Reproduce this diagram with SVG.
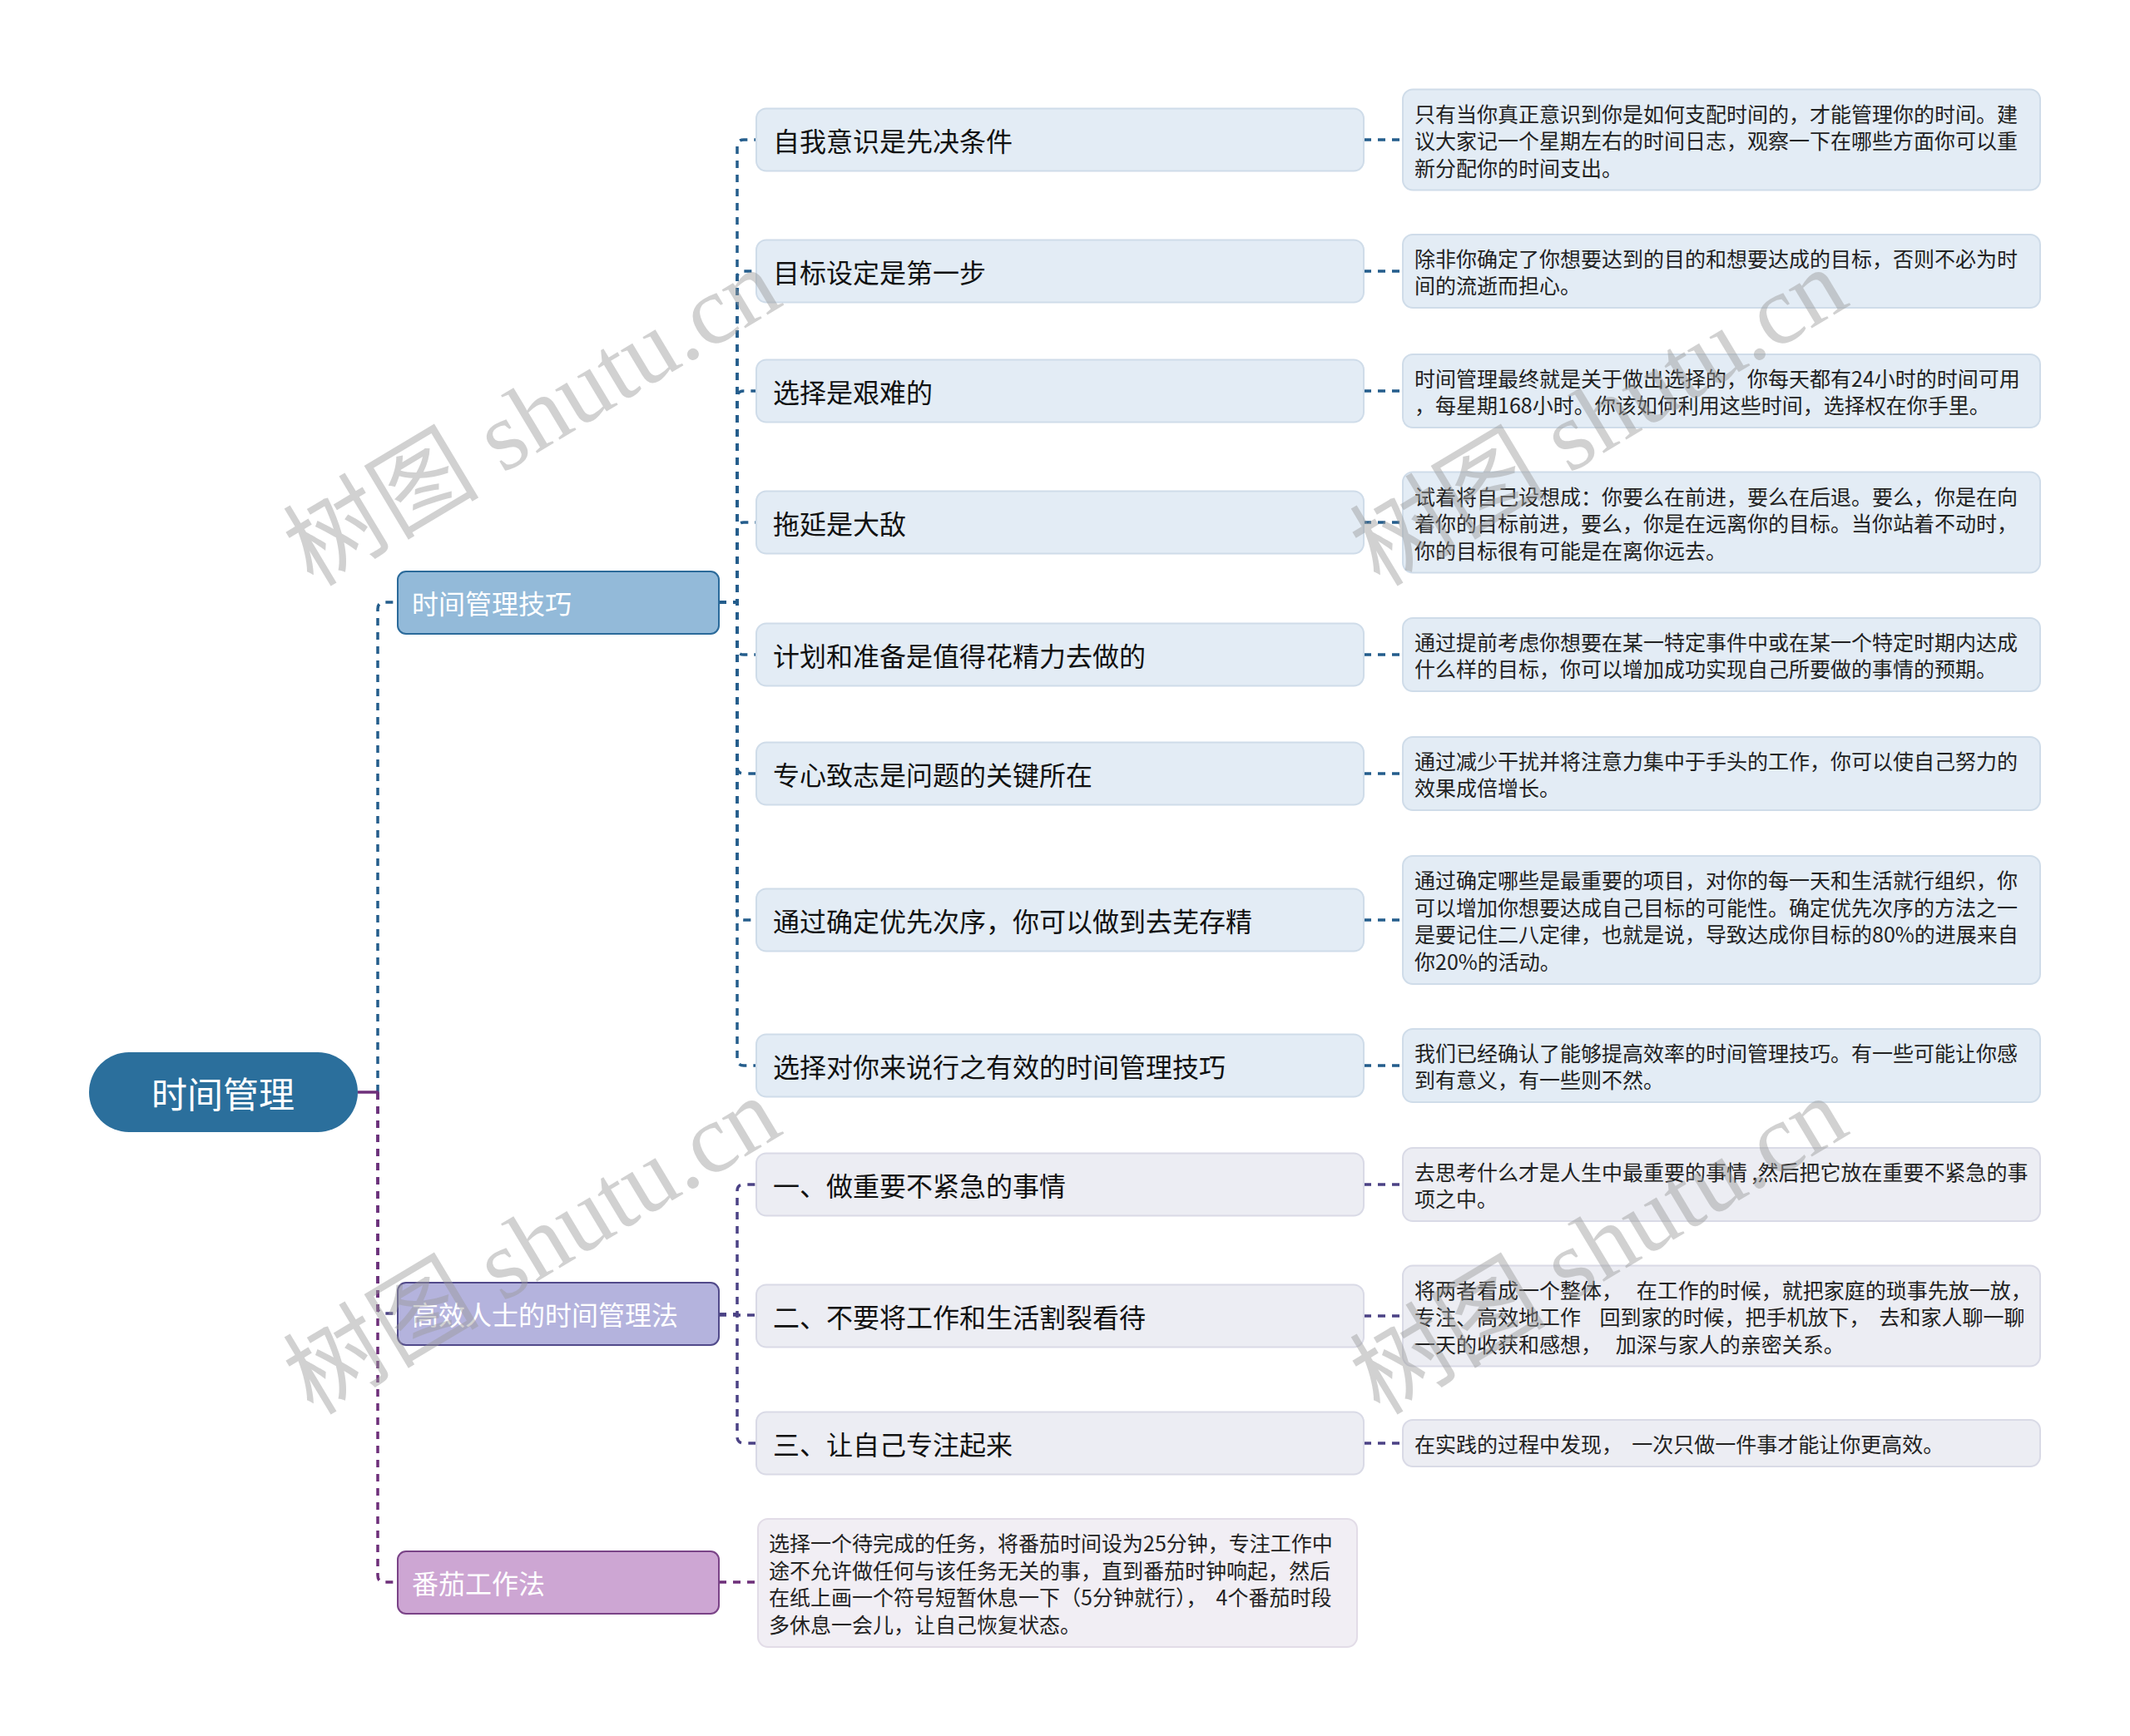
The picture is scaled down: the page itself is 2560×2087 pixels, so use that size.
<svg xmlns="http://www.w3.org/2000/svg" width="2560" height="2087" viewBox="0 0 2560 2087">
<style>
text{font-family:'Noto Sans CJK SC','Noto Sans',sans-serif;dominant-baseline:central}
.root{fill:#2b6f9c}
.rt{fill:#fff;font-size:43px;text-anchor:middle}
.l1t{fill:#fff;font-size:32px}
.n1{fill:#93bad9;stroke:#2b6a9a;stroke-width:2}
.n2{fill:#b4b3dd;stroke:#514a8a;stroke-width:2}
.n3{fill:#cda6d3;stroke:#7a4387;stroke-width:2}
.b{fill:#e3ecf5;stroke:#cfdce9;stroke-width:2}
.p{fill:#ecedf3;stroke:#d9dae6;stroke-width:2}
.q{fill:#f1eef4;stroke:#e2dce7;stroke-width:2}
.l2t{fill:#111;font-size:32px}
.nt{fill:#222;font-size:25px}
.c{fill:none;stroke-width:3.5;stroke-dasharray:9 8}
.cb{stroke:#245d8c}
.cp{stroke:#4b4285}
.cm{stroke:#6e2f7a}
.wm{font-family:'Liberation Serif','Noto Sans CJK SC',serif;font-size:118px;fill:#9a9a9a;opacity:0.45;text-anchor:middle;dominant-baseline:auto}
</style>
<rect width="2560" height="2087" fill="#fff"/>
<g id="connectors">
<path class="c cb" d="M454,1313 V732 Q454,724 462,724 H477"/>
<path class="c cp" d="M454,1313 V1571 Q454,1579 462,1579 H477"/>
<path class="c cm" d="M454,1313 V1894 Q454,1902 462,1902 H477"/>
<path d="M430,1313 H455" stroke="#6e2f7a" stroke-width="3.5" fill="none"/>
<path class="c cb" d="M864,724 H886 V176 Q886,168 894,168 H909"/>
<path class="c cb" d="M864,724 H886 V334 Q886,326 894,326 H909"/>
<path class="c cb" d="M864,724 H886 V478 Q886,470 894,470 H909"/>
<path class="c cb" d="M864,724 H886 V636 Q886,628 894,628 H909"/>
<path class="c cb" d="M864,724 H886 V779 Q886,787 894,787 H909"/>
<path class="c cb" d="M864,724 H886 V922 Q886,930 894,930 H909"/>
<path class="c cb" d="M864,724 H886 V1098 Q886,1106 894,1106 H909"/>
<path class="c cb" d="M864,724 H886 V1273 Q886,1281 894,1281 H909"/>
<path class="c cp" d="M864,1580 H886 V1432 Q886,1424 894,1424 H909"/>
<path class="c cp" d="M864,1581 H909"/>
<path class="c cp" d="M864,1580 H886 V1727 Q886,1735 894,1735 H909"/>
<path class="c cm" d="M864,1902 H911"/>
<path class="c cb" d="M1639,168 H1686"/>
<path class="c cb" d="M1639,326 H1686"/>
<path class="c cb" d="M1639,470 H1686"/>
<path class="c cb" d="M1639,628 H1686"/>
<path class="c cb" d="M1639,787 H1686"/>
<path class="c cb" d="M1639,930 H1686"/>
<path class="c cb" d="M1639,1106 H1686"/>
<path class="c cb" d="M1639,1281 H1686"/>
<path class="c cp" d="M1639,1424 H1686"/>
<path class="c cp" d="M1639,1582 H1686"/>
<path class="c cp" d="M1639,1735 H1686"/>
</g>
<g id="root"><rect class="root" x="107" y="1265" width="323" height="96" rx="48"/><text class="rt" x="268" y="1313">时间管理</text></g>
<g id="n-jiqiao"><rect class="n1" x="478" y="687" width="386" height="75" rx="10"/><text class="l1t" x="495" y="724">时间管理技巧</text></g>
<g id="n-gaoxiao"><rect class="n2" x="478" y="1542" width="386" height="75" rx="10"/><text class="l1t" x="495" y="1579">高效人士的时间管理法</text></g>
<g id="n-fanqie"><rect class="n3" x="478" y="1865" width="386" height="75" rx="10"/><text class="l1t" x="495" y="1902">番茄工作法</text></g>

<g id="c1"><rect class="b" x="909" y="130.5" width="730" height="75" rx="12"/><text class="l2t" x="929" y="168">自我意识是先决条件</text></g>
<g id="c2"><rect class="b" x="909" y="288.5" width="730" height="75" rx="12"/><text class="l2t" x="929" y="326">目标设定是第一步</text></g>
<g id="c3"><rect class="b" x="909" y="432.5" width="730" height="75" rx="12"/><text class="l2t" x="929" y="470">选择是艰难的</text></g>
<g id="c4"><rect class="b" x="909" y="590.5" width="730" height="75" rx="12"/><text class="l2t" x="929" y="628">拖延是大敌</text></g>
<g id="c5"><rect class="b" x="909" y="749.5" width="730" height="75" rx="12"/><text class="l2t" x="929" y="787">计划和准备是值得花精力去做的</text></g>
<g id="c6"><rect class="b" x="909" y="892.5" width="730" height="75" rx="12"/><text class="l2t" x="929" y="930">专心致志是问题的关键所在</text></g>
<g id="c7"><rect class="b" x="909" y="1068.5" width="730" height="75" rx="12"/><text class="l2t" x="929" y="1106">通过确定优先次序，你可以做到去芜存精</text></g>
<g id="c8"><rect class="b" x="909" y="1243.5" width="730" height="75" rx="12"/><text class="l2t" x="929" y="1281">选择对你来说行之有效的时间管理技巧</text></g>
<g id="c9"><rect class="p" x="909" y="1386.5" width="730" height="75" rx="12"/><text class="l2t" x="929" y="1424">一、做重要不紧急的事情</text></g>
<g id="c10"><rect class="p" x="909" y="1544.5" width="730" height="75" rx="12"/><text class="l2t" x="929" y="1582">二、不要将工作和生活割裂看待</text></g>
<g id="c11"><rect class="p" x="909" y="1697.5" width="730" height="75" rx="12"/><text class="l2t" x="929" y="1735">三、让自己专注起来</text></g>

<g id="note1"><rect class="b" x="1686" y="107.5" width="766" height="121" rx="12"/><text class="nt" x="1700" y="135.5">只有当你真正意识到你是如何支配时间的，才能管理你的时间。建</text><text class="nt" x="1700" y="168">议大家记一个星期左右的时间日志，观察一下在哪些方面你可以重</text><text class="nt" x="1700" y="200.5">新分配你的时间支出。</text></g>
<g id="note2"><rect class="b" x="1686" y="282" width="766" height="88" rx="12"/><text class="nt" x="1700" y="309.75">除非你确定了你想要达到的目的和想要达成的目标，否则不必为时</text><text class="nt" x="1700" y="342.25">间的流逝而担心。</text></g>
<g id="note3"><rect class="b" x="1686" y="426" width="766" height="88" rx="12"/><text class="nt" x="1700" y="453.75">时间管理最终就是关于做出选择的，你每天都有24小时的时间可用</text><text class="nt" x="1700" y="486.25">，每星期168小时。你该如何利用这些时间，选择权在你手里。</text></g>
<g id="note4"><rect class="b" x="1686" y="567.5" width="766" height="121" rx="12"/><text class="nt" x="1700" y="595.5">试着将自己设想成：你要么在前进，要么在后退。要么，你是在向</text><text class="nt" x="1700" y="628">着你的目标前进，要么，你是在远离你的目标。当你站着不动时，</text><text class="nt" x="1700" y="660.5">你的目标很有可能是在离你远去。</text></g>
<g id="note5"><rect class="b" x="1686" y="743" width="766" height="88" rx="12"/><text class="nt" x="1700" y="770.75">通过提前考虑你想要在某一特定事件中或在某一个特定时期内达成</text><text class="nt" x="1700" y="803.25">什么样的目标，你可以增加成功实现自己所要做的事情的预期。</text></g>
<g id="note6"><rect class="b" x="1686" y="886" width="766" height="88" rx="12"/><text class="nt" x="1700" y="913.75">通过减少干扰并将注意力集中于手头的工作，你可以使自己努力的</text><text class="nt" x="1700" y="946.25">效果成倍增长。</text></g>
<g id="note7"><rect class="b" x="1686" y="1029" width="766" height="154" rx="12"/><text class="nt" x="1700" y="1057.25">通过确定哪些是最重要的项目，对你的每一天和生活就行组织，你</text><text class="nt" x="1700" y="1089.75">可以增加你想要达成自己目标的可能性。确定优先次序的方法之一</text><text class="nt" x="1700" y="1122.25">是要记住二八定律，也就是说，导致达成你目标的80%的进展来自</text><text class="nt" x="1700" y="1154.75">你20%的活动。</text></g>
<g id="note8"><rect class="b" x="1686" y="1237" width="766" height="88" rx="12"/><text class="nt" x="1700" y="1264.75">我们已经确认了能够提高效率的时间管理技巧。有一些可能让你感</text><text class="nt" x="1700" y="1297.25">到有意义，有一些则不然。</text></g>
<g id="note9"><rect class="p" x="1686" y="1380" width="766" height="88" rx="12"/><text class="nt" x="1700" y="1407.75" xml:space="preserve">去思考什么才是人生中最重要的事情 ,然后把它放在重要不紧急的事</text><text class="nt" x="1700" y="1440.25">项之中。</text></g>
<g id="note10"><rect class="p" x="1686" y="1521.5" width="766" height="121" rx="12"/><text class="nt" x="1700" y="1549.5" xml:space="preserve">将两者看成一个整体，   在工作的时候，就把家庭的琐事先放一放，</text><text class="nt" x="1700" y="1582" xml:space="preserve">专注、高效地工作    回到家的时候，把手机放下，  去和家人聊一聊</text><text class="nt" x="1700" y="1614.5" xml:space="preserve">一天的收获和感想，   加深与家人的亲密关系。</text></g>
<g id="note11"><rect class="p" x="1686" y="1707" width="766" height="56" rx="12"/><text class="nt" x="1700" y="1735" xml:space="preserve">在实践的过程中发现，  一次只做一件事才能让你更高效。</text></g>
<g id="note12"><rect class="q" x="911" y="1826" width="720" height="154" rx="12"/><text class="nt" x="924" y="1854.25">选择一个待完成的任务，将番茄时间设为25分钟，专注工作中</text><text class="nt" x="924" y="1886.75">途不允许做任何与该任务无关的事，直到番茄时钟响起，然后</text><text class="nt" x="924" y="1919.25" xml:space="preserve">在纸上画一个符号短暂休息一下（5分钟就行），  4个番茄时段</text><text class="nt" x="924" y="1951.75">多休息一会儿，让自己恢复状态。</text></g>

<g id="watermarks">
<text class="wm" transform="translate(660,536) rotate(-31)">树图 shutu.cn</text>
<text class="wm" transform="translate(1942,536) rotate(-31)">树图 shutu.cn</text>
<text class="wm" transform="translate(660,1532) rotate(-31)">树图 shutu.cn</text>
<text class="wm" transform="translate(1942,1532) rotate(-31)">树图 shutu.cn</text>
</g>
</svg>
